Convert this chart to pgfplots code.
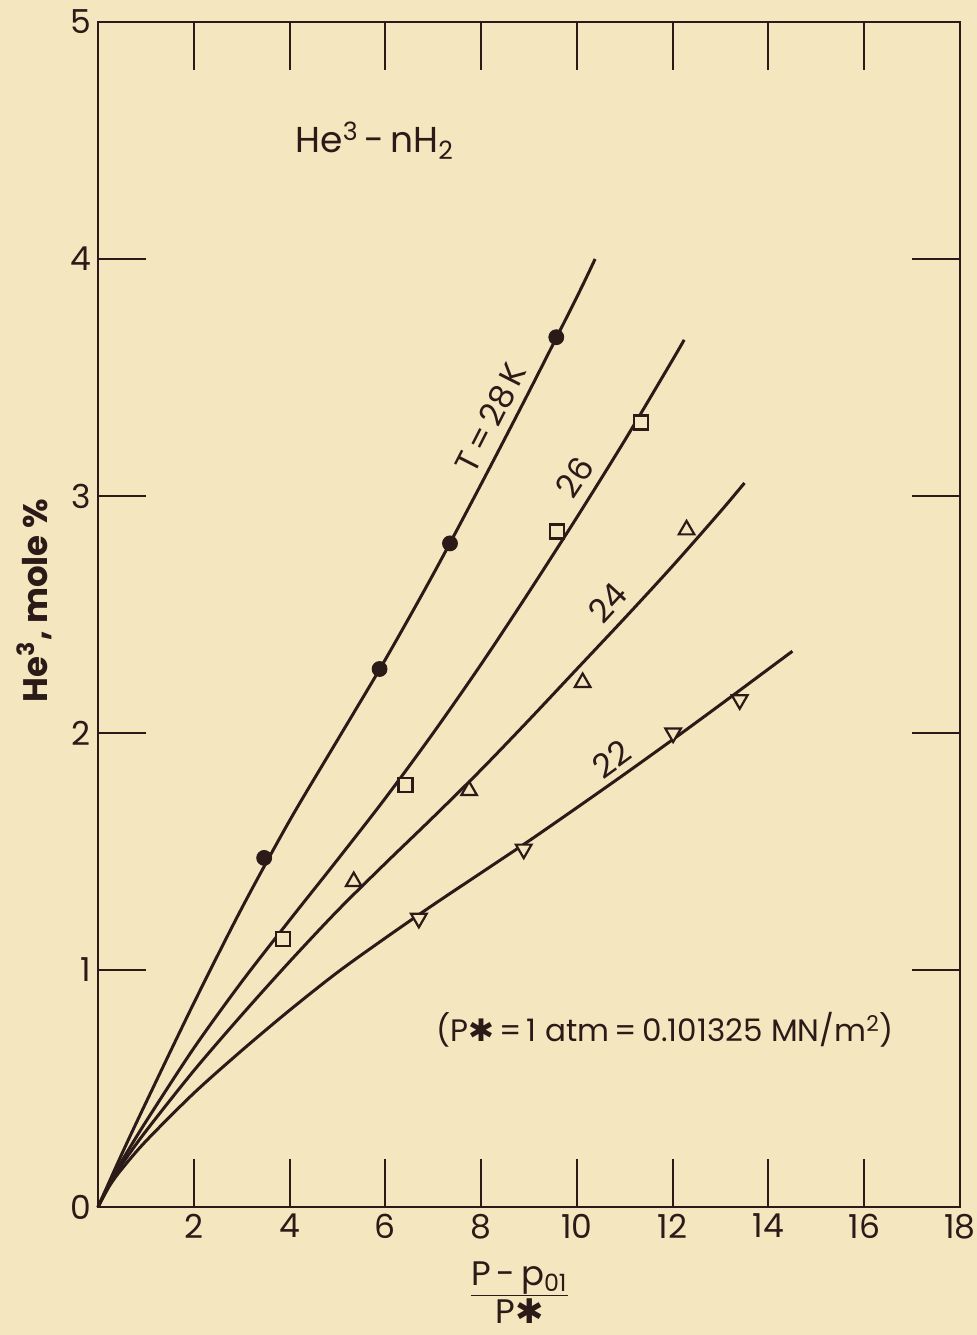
\documentclass[border=0pt]{standalone}
\usepackage{pgfplots}
\pgfplotsset{compat=1.18}
\usepackage{fontspec}
\setmainfont{Poppins}
\newfontfamily\dejavu{DejaVu Sans}
\definecolor{bg}{RGB}{244,230,190}
\definecolor{ink}{RGB}{42,26,24}
\pagecolor{bg}
\begin{document}
\begin{tikzpicture}
\begin{axis}[
  scale only axis, width=431pt, height=592.5pt,
  xmin=0, xmax=18, ymin=0, ymax=5,
  xtick={2,4,...,18}, ytick={0,1,...,5},
  tick align=inside, tick pos=both,
  xticklabel pos=lower, yticklabel pos=left,
  major tick length=24pt,
  axis line style={ink, line width=1pt},
  every tick/.style={ink, line width=1pt},
  tick label style={font=\fontsize{16.5}{18}\selectfont, text=ink},
  /pgf/number format/assume math mode=true,
  clip=false,
]
\coordinate (bl) at (rel axis cs:0,0);
\coordinate (tr) at (rel axis cs:1,1);
% fitted curves
\addplot[ink, line width=1.5pt, smooth, tension=0.5] coordinates {
 (0,0) (0.5,0.225) (1,0.44) (2,0.86) (3,1.26) (4,1.63) (5,1.97) (6,2.31) (7,2.67) (8,3.05) (9,3.44) (10,3.84) (10.38,4.0)};
\addplot[ink, line width=1.5pt, smooth, tension=0.5] coordinates {
 (0,0) (0.25,0.105) (0.5,0.195) (1,0.36) (2,0.67) (3,0.95) (4,1.21) (5,1.465) (6,1.725) (7,2.00) (8,2.29) (9,2.595) (10,2.91) (11,3.235) (12,3.575) (12.24,3.659)};
\addplot[ink, line width=1.5pt, smooth, tension=0.5] coordinates {
 (0,0) (0.25,0.1) (0.5,0.18) (1,0.32) (2,0.575) (3,0.81) (4,1.035) (5,1.25) (6,1.45) (7,1.645) (8,1.845) (9,2.055) (10,2.27) (11,2.485) (12,2.705) (13,2.935) (13.5,3.055)};
\addplot[ink, line width=1.5pt, smooth, tension=0.5] coordinates {
 (0,0) (0.25,0.092) (0.5,0.161) (1,0.278) (2,0.48) (3,0.66) (4,0.83) (5,0.99) (6,1.135) (7,1.275) (8,1.41) (9,1.545) (10,1.685) (11,1.827) (12,1.972) (13,2.12) (14,2.27) (14.5,2.345)};
% data points
\addplot[only marks, mark=*, mark size=3.75pt, mark options={fill=ink, draw=ink}] coordinates {
 (3.47,1.473) (5.88,2.27) (7.35,2.80) (9.57,3.67)};
\addplot[only marks, mark=square*, mark size=3.5pt, mark options={fill=bg, draw=ink, line width=1.1pt}] coordinates {
 (3.86,1.13) (6.42,1.78) (9.58,2.85) (11.34,3.31)};
\addplot[only marks, mark=triangle*, mark size=4.5pt, mark options={fill=bg, draw=ink, line width=1.1pt}] coordinates {
 (5.34,1.373) (7.75,1.757) (10.12,2.213) (12.29,2.857)};
\addplot[only marks, mark=triangle*, mark size=4.5pt, mark options={fill=bg, draw=ink, line width=1.1pt, rotate=180}] coordinates {
 (6.70,1.218) (8.89,1.51) (12.01,2.0) (13.4,2.14)};
% labels
\node[text=ink, font=\fontsize{18}{20}\selectfont] at (axis cs:5.78,4.50) {He\textsuperscript{3}\,-\,nH\textsubscript{2}};
\node[text=ink, font=\fontsize{16.5}{18}\selectfont, rotate=63, inner sep=0pt] at (axis cs:8.2,3.33) {T\,=\,28\,K};
\node[text=ink, font=\fontsize{16.5}{18}\selectfont, rotate=56.6, inner sep=0pt] at (axis cs:9.95,3.08) {26};
\node[text=ink, font=\fontsize{16.5}{18}\selectfont, rotate=47.5, inner sep=0pt] at (axis cs:10.64,2.55) {24};
\node[text=ink, font=\fontsize{16.5}{18}\selectfont, rotate=36, inner sep=0pt] at (axis cs:10.72,1.89) {22};
\node[text=ink, font=\fontsize{15.5}{17}\selectfont] at (axis cs:11.84,0.747) {(P{\dejavu\char"2731}\,=\,1 atm\,=\,0.101325 MN/m\textsuperscript{2})};
\node[text=ink, font=\bfseries\fontsize{17}{19}\selectfont, rotate=90] at (axis cs:-1.33,2.56) {He\textsuperscript{3}, mole \%};
\node[text=ink, font=\fontsize{17}{19}\selectfont, inner sep=0pt] at (axis cs:8.8,0) [yshift=-45pt]
 {\begin{tabular}{@{}c@{}}P\,-\,p\textsubscript{01}\\[-1pt]\hline\rule{0pt}{14pt}P{\dejavu\char"2731}\end{tabular}};
\end{axis}
\pgfresetboundingbox
\path ([xshift=-49pt,yshift=-64pt]bl) rectangle ([xshift=8.5pt,yshift=11pt]tr);
\end{tikzpicture}
\end{document}
